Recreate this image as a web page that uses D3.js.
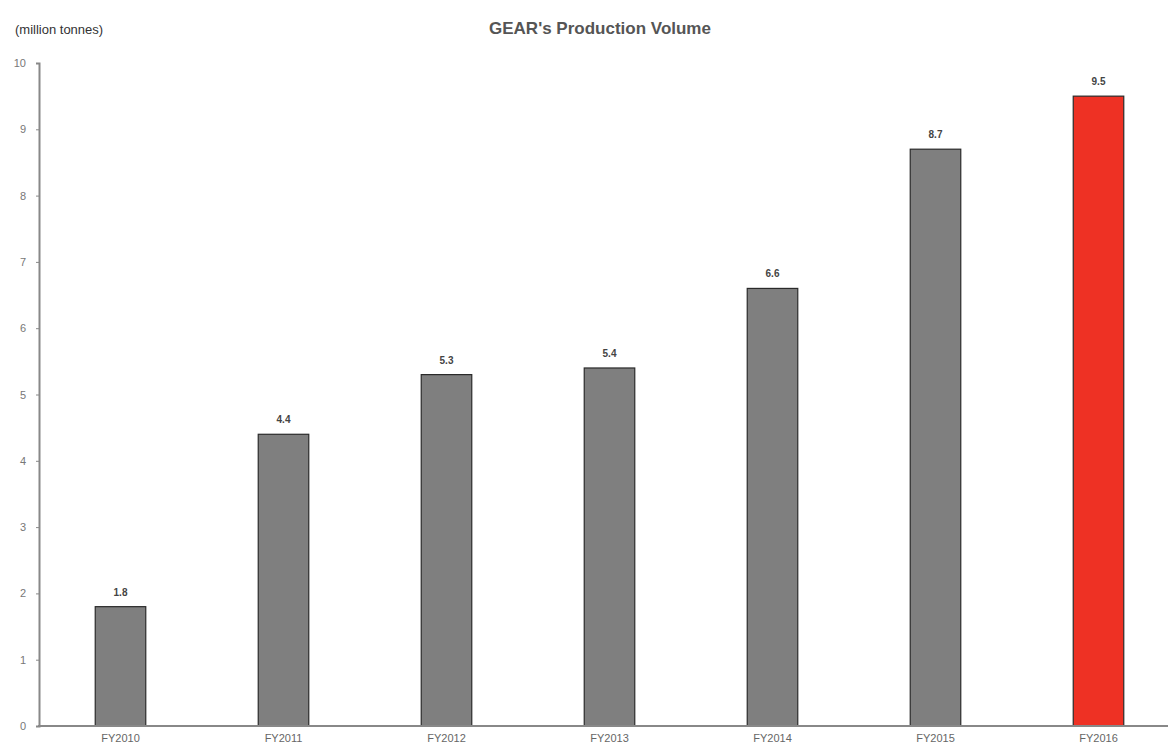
<!DOCTYPE html>
<html>
<head>
<meta charset="utf-8">
<script src="https://cdn.jsdelivr.net/npm/d3@7"></script>
<style>
html,body{margin:0;padding:0;background:#fff;}
svg{display:block;}
</style>
</head>
<body>
<svg id="chart" width="1168" height="749"></svg>
<script>
const categories = ["FY2010","FY2011","FY2012","FY2013","FY2014","FY2015","FY2016"];
const values = [1.8, 4.4, 5.3, 5.4, 6.6, 8.7, 9.5];
const valueLabels = ["1.8","4.4","5.3","5.4","6.6","8.7","9.5"];
const yTicks = [0,1,2,3,4,5,6,7,8,9,10];
const highlight = "FY2016";

const svg = d3.select("#chart");
const font = "Liberation Sans, Arial, sans-serif";

const x = d3.scaleBand().domain(categories).range([39, 1180]).paddingInner(0.69).paddingOuter(0.345);
const y = d3.scaleLinear().domain([0, 10]).range([726, 63]);

// title
svg.append("text").attr("x", 600).attr("y", 34).attr("text-anchor","middle")
  .attr("font-family", font).attr("font-size", 17).attr("font-weight","bold")
  .attr("fill","#555").text("GEAR's Production Volume");
svg.append("text").attr("x", 15).attr("y", 34)
  .attr("font-family", font).attr("font-size", 13)
  .attr("fill","#333").text("(million tonnes)");

// bars
svg.selectAll("rect.bar").data(categories).enter().append("rect")
  .attr("class","bar")
  .attr("x", d => x(d))
  .attr("y", (d,i) => y(values[i]))
  .attr("width", x.bandwidth())
  .attr("height", (d,i) => y(0) - y(values[i]))
  .attr("fill", d => d === highlight ? "#ee3124" : "#7f7f7f")
  .attr("stroke", "#2a2a2a").attr("stroke-width", 1.2);

// value labels
svg.selectAll("text.val").data(categories).enter().append("text")
  .attr("class","val")
  .attr("x", d => x(d) + x.bandwidth()/2)
  .attr("y", (d,i) => y(values[i]) - 11)
  .attr("text-anchor","middle")
  .attr("font-family", font).attr("font-size", 10).attr("font-weight","bold")
  .attr("fill","#444")
  .text((d,i) => valueLabels[i]);

// y axis
const yAxis = d3.axisLeft(y).tickValues(yTicks).tickSize(3).tickPadding(10).tickFormat(d3.format("d"));
const gy = svg.append("g").attr("transform","translate(39,0)").call(yAxis);
gy.select(".domain").attr("stroke","#888").attr("stroke-width",2);
gy.selectAll(".tick line").attr("stroke","#888");
gy.selectAll(".tick text").attr("font-family", font).attr("font-size", 11).attr("fill","#777");

// x axis
const xAxis = d3.axisBottom(x).tickSize(0).tickPadding(8);
const gx = svg.append("g").attr("transform","translate(0,726)").call(xAxis);
gx.select(".domain").attr("stroke","#888").attr("stroke-width",2).attr("d","M38,0H1168");
gx.selectAll(".tick text").attr("font-family", font).attr("font-size", 11).attr("fill","#666");
</script>
</body>
</html>
